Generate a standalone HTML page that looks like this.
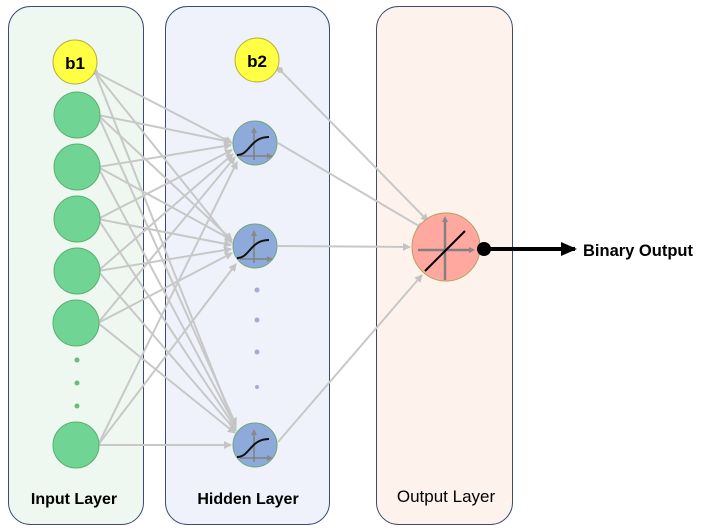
<!DOCTYPE html>
<html><head><style>body{margin:0;background:#fff}svg{display:block}</style></head><body>
<svg width="706" height="531" xmlns="http://www.w3.org/2000/svg" font-family="Liberation Sans, sans-serif">
<defs>
<marker id="a" markerWidth="8" markerHeight="8" refX="7" refY="4" orient="auto" markerUnits="userSpaceOnUse"><path d="M0,0 L8,4 L0,8 z" fill="#c4c4c4"/></marker>
<marker id="g" markerWidth="6" markerHeight="6" refX="3" refY="3" orient="auto" markerUnits="userSpaceOnUse"><path d="M0,0 L6,3 L0,6 z" fill="#888"/></marker>
<marker id="k" markerWidth="16" markerHeight="14" refX="14" refY="7" orient="auto" markerUnits="userSpaceOnUse"><path d="M0,0 L16,7 L0,14 z" fill="#000"/></marker>
</defs>
<rect x="8.5" y="6.5" width="135" height="518" rx="22" fill="#eef8f0" stroke="#3d4a70"/>
<rect x="165.5" y="6.5" width="164" height="518" rx="22" fill="#eff2fa" stroke="#3d4a70"/>
<rect x="376.5" y="6.5" width="136" height="518" rx="22" fill="#fdf3ec" stroke="#3d4a70"/>
<g stroke="#c8c8c8" stroke-width="2" fill="none" marker-end="url(#a)">
<line x1="95" y1="72" x2="232" y2="143"/><line x1="95" y1="72" x2="232" y2="243"/><line x1="95" y1="72" x2="235" y2="427"/>
<line x1="98" y1="115" x2="231" y2="142"/><line x1="98" y1="115" x2="232" y2="240"/><line x1="98" y1="115" x2="236" y2="425"/>
<line x1="98" y1="167" x2="231" y2="145"/><line x1="98" y1="167" x2="232" y2="240"/><line x1="98" y1="167" x2="236" y2="427"/>
<line x1="98" y1="219" x2="232" y2="150"/><line x1="98" y1="219" x2="231" y2="245"/><line x1="98" y1="219" x2="236" y2="429"/>
<line x1="98" y1="271" x2="233" y2="154"/><line x1="98" y1="271" x2="231" y2="249"/><line x1="98" y1="271" x2="236" y2="431"/>
<line x1="98" y1="323" x2="235" y2="157"/><line x1="98" y1="323" x2="232" y2="253"/><line x1="98" y1="323" x2="235" y2="433"/>
<line x1="98" y1="445" x2="237" y2="162"/><line x1="98" y1="445" x2="236" y2="264"/><line x1="98" y1="445" x2="231" y2="445"/>
<line x1="280" y1="70" x2="428" y2="221"/>
<line x1="278" y1="143" x2="424" y2="229"/>
<line x1="278" y1="246" x2="410" y2="247"/>
<line x1="278" y1="442" x2="422" y2="275"/>
</g>
<g fill="#c4c4c4"><circle cx="95" cy="72" r="3"/><circle cx="280" cy="70" r="3"/></g>
<circle cx="75" cy="62" r="22" fill="#ffff44" stroke="#b8b040"/>
<text x="75" y="69" font-size="17" font-weight="bold" text-anchor="middle">b1</text>
<circle cx="257" cy="60" r="22" fill="#ffff44" stroke="#b8b040"/>
<text x="257" y="67" font-size="17" font-weight="bold" text-anchor="middle">b2</text>
<g fill="#70d494" stroke="#5cb070">
<circle cx="77" cy="115" r="23"/><circle cx="77" cy="167" r="23"/><circle cx="77" cy="219" r="23"/><circle cx="77" cy="271" r="23"/><circle cx="76" cy="323" r="23"/><circle cx="76" cy="445" r="23"/>
</g>
<g fill="#6aba7a"><circle cx="77" cy="360" r="2.5"/><circle cx="77" cy="383" r="2.5"/><circle cx="77" cy="406" r="2.5"/></g>
<g fill="#a6acd0"><circle cx="257" cy="290" r="2.5"/><circle cx="257" cy="320" r="2.5"/><circle cx="257" cy="352" r="2.5"/><circle cx="257" cy="387" r="2"/></g>
<g>
<circle cx="255" cy="143" r="22" fill="#8eaadb" stroke="#6fa87a"/>
<circle cx="255" cy="246" r="22" fill="#8eaadb" stroke="#6fa87a"/>
<circle cx="255" cy="445" r="22" fill="#8eaadb" stroke="#6fa87a"/>
</g>
<g stroke="#808080" stroke-width="1.5" fill="none">
<line x1="254" y1="160" x2="254" y2="130" marker-end="url(#g)"/><line x1="240" y1="156" x2="270" y2="156" marker-end="url(#g)"/>
<line x1="254" y1="263" x2="254" y2="233" marker-end="url(#g)"/><line x1="240" y1="259" x2="270" y2="259" marker-end="url(#g)"/>
<line x1="254" y1="462" x2="254" y2="432" marker-end="url(#g)"/><line x1="240" y1="458" x2="270" y2="458" marker-end="url(#g)"/>
</g>
<g stroke="#111" stroke-width="2" fill="none">
<path d="M237,155 C250,155 250,137 269,137"/>
<path d="M237,258 C250,258 250,240 269,240"/>
<path d="M237,457 C250,457 250,439 269,439"/>
</g>
<circle cx="446" cy="247" r="34" fill="#ffa8a0" stroke="#b8a060"/>
<g stroke="#808080" stroke-width="2.5"><line x1="445" y1="280" x2="445" y2="219" marker-end="url(#g)"/><line x1="418" y1="250" x2="472" y2="250" marker-end="url(#g)"/></g>
<line x1="425" y1="271" x2="465" y2="231" stroke="#000" stroke-width="2"/>
<circle cx="484" cy="249" r="7" fill="#000"/>
<line x1="484" y1="249" x2="575" y2="249" stroke="#000" stroke-width="4" marker-end="url(#k)"/>
<text x="583" y="256" font-size="16.5" font-weight="bold">Binary Output</text>
<text x="74" y="504" font-size="16" font-weight="bold" text-anchor="middle">Input Layer</text>
<text x="248" y="504" font-size="16" font-weight="bold" text-anchor="middle">Hidden Layer</text>
<text x="446" y="502" font-size="17" text-anchor="middle">Output Layer</text>
</svg>
</body></html>
